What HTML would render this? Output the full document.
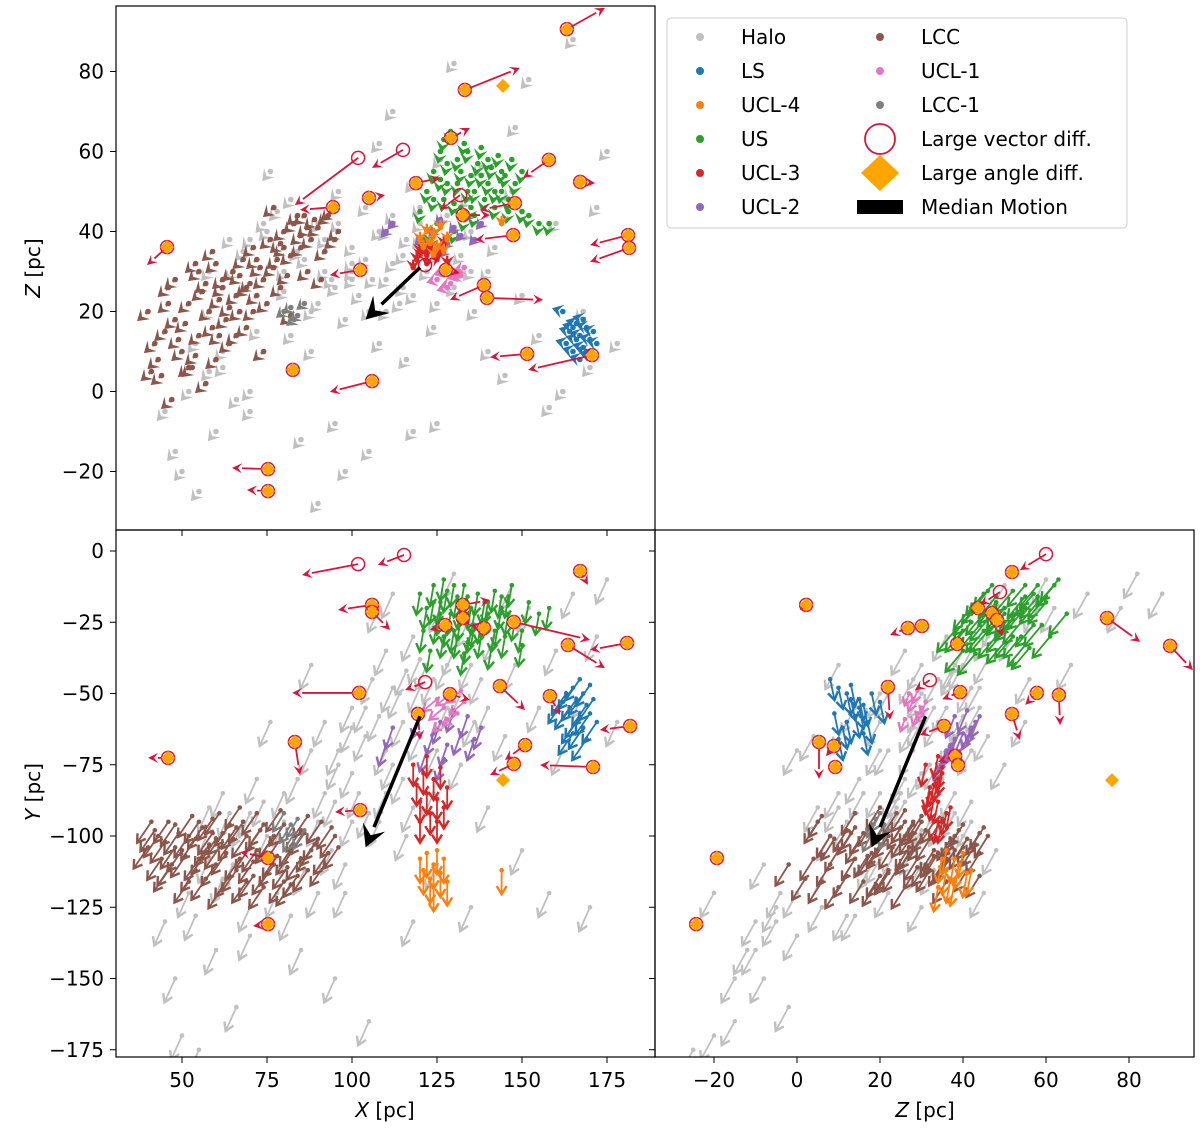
<!DOCTYPE html>
<html><head><meta charset="utf-8">
<style>
html,body{margin:0;padding:0;background:#fff;}
svg{display:block;font-family:"DejaVu Sans","Liberation Sans",sans-serif;}
</style></head>
<body>
<svg id="fig" width="1200" height="1128" viewBox="0 0 1200 1128">
<defs>
<clipPath id="cTop"><rect x="116" y="6" width="539" height="524"/></clipPath>
<clipPath id="cBL"><rect x="116" y="530" width="539" height="527"/></clipPath>
<clipPath id="cBR"><rect x="655" y="530" width="539" height="527"/></clipPath>
</defs>
<g id="gTop" clip-path="url(#cTop)"></g>
<g id="gBL" clip-path="url(#cBL)"></g>
<g id="gBR" clip-path="url(#cBR)"></g>
<g id="axes"></g>
<g id="legend"></g>
</svg>
<script>
// ---- data: stars [X, Y, Z] per group ----
const halo=[[45,-130,-5],[48,-150,-15],[50,-170,-20],[55,-175,-25],[52,-120,0],[58,-90,5],[60,-140,-10],[62,-85,10],[65,-110,30],[68,-95,35],[70,-125,-5],[72,-80,15],[75,-100,40],[78,-120,45],[80,-85,25],[82,-105,48],[85,-140,-12],[88,-70,20],[90,-95,42],[92,-60,30],[95,-150,-8],[96,-75,50],[98,-110,18],[100,-55,36],[102,-85,24],[104,-65,46],[106,-45,28],[108,-95,12],[110,-35,40],[112,-75,32],[114,-50,22],[116,-100,8],[118,-30,52],[120,-65,38],[122,-40,30],[124,-85,16],[126,-20,58],[128,-55,44],[130,-35,26],[132,-75,34],[134,-25,48],[136,-60,20],[138,-45,56],[140,-90,10],[142,-30,36],[145,-65,4],[148,-40,66],[150,-105,24],[152,-20,78],[155,-55,14],[158,-120,-4],[160,-35,42],[162,-70,0],[165,-15,88],[168,-50,20],[170,-125,6],[172,-30,46],[175,-10,60],[178,-60,12],[118,-130,-10],[105,-165,-15],[98,-120,-20],[125,-110,-8],[135,-125,30],[88,-40,10],[76,-60,55],[108,-20,62],[112,-15,70],[130,-8,82],[147,-12,50],[90,-180,-28],[66,-160,-2],[110,-70,28],[115,-60,34],[95,-88,26],[100,-78,30],[120,-48,42],[105,-92,20],[58,-98,30],[64,-92,38],
[70,-92,38],[74,-88,42],[80,-95,30],[84,-80,35],[92,-85,38],[96,-70,42],[100,-62,28],[104,-55,33],[108,-58,40],[112,-48,44],[116,-42,38],[120,-38,46],[124,-45,34],[128,-40,38],[132,-50,30],[100,-95,32],[94,-105,28],[86,-112,33],[90,-120,22],[110,-85,20],[115,-80,26],[118,-90,24],[125,-70,22],[135,-40,40],[140,-55,30],[58,-108,20],[62,-115,6],[54,-128,12],[70,-135,0],[82,-128,14]];
const lcc=[[42,-98,12],[45,-102,15],[48,-96,18],[50,-105,10],[52,-100,22],[55,-108,14],[56,-97,25],[58,-103,20],[60,-110,8],[62,-99,28],[63,-106,18],[65,-101,30],[66,-112,24],[68,-95,33],[70,-104,27],[71,-109,36],[73,-98,31],[75,-113,22],[76,-102,38],[78,-107,33],[80,-96,40],[81,-111,29],[83,-103,42],[85,-108,36],[86,-99,44],[88,-105,38],[90,-101,41],[92,-110,35],[94,-97,45],[96,-104,40],[44,-108,4],[47,-110,-2],[53,-93,6],[57,-115,2],[61,-92,14],[64,-114,12],[67,-90,20],[69,-116,16],[72,-92,24],[74,-118,10],[79,-91,26],[82,-117,19],[87,-93,30],[40,-104,20],[46,-95,26],[54,-112,32],[59,-94,35],[77,-100,46],[84,-114,44],[91,-95,28],
[43,-100,8],[49,-99,13],[51,-107,17],[54,-101,9],[57,-106,27],[59,-99,16],[61,-104,23],[64,-96,21],[67,-108,29],[69,-100,26],[72,-105,33],[74,-96,28],[77,-110,31],[79,-101,37],[82,-106,34],[85,-98,39],[87,-112,41],[89,-103,43],[93,-106,44],[46,-112,22],[52,-116,6],[62,-118,26],[66,-97,14],[71,-114,20],[55,-95,30],[48,-104,28],[60,-101,32],[95,-100,38],[80,-116,36],[41,-95,5]];
const us=[[120,-15,45],[122,-20,50],[124,-12,55],[125,-25,42],[126,-18,60],[127,-30,48],[128,-14,52],[129,-22,65],[130,-28,40],[131,-16,58],[132,-24,46],[133,-12,62],[134,-32,50],[135,-20,54],[136,-26,44],[137,-15,57],[138,-30,61],[139,-18,48],[140,-22,52],[141,-34,56],[142,-14,46],[143,-26,59],[144,-20,50],[145,-30,54],[146,-16,48],[148,-24,52],[150,-28,45],[152,-18,44],[155,-22,42],[121,-28,38],[123,-35,40],[127,-10,63],[133,-36,43],[147,-12,58],[150,-33,55],[158,-20,42],
[124,-18,48],[126,-22,53],[128,-26,57],[130,-12,47],[132,-20,55],[134,-16,60],[136,-22,50],[138,-25,54],[140,-18,58],[142,-28,50],[144,-16,55],[146,-22,45],[131,-30,52],[135,-28,46]];
const ls=[[163,-50,12],[164,-55,15],[165,-48,10],[166,-60,17],[166,-52,13],[167,-45,8],[167,-58,14],[168,-50,18],[168,-62,11],[169,-54,16],[170,-47,13],[170,-57,9],[171,-52,15],[172,-60,12],[165,-64,16],[169,-66,10],[162,-53,20]];
const ucl3=[[118,-75,31],[119,-82,33],[120,-88,34],[121,-78,35],[122,-85,32],[123,-92,36],[124,-80,34],[125,-87,33],[126,-76,35],[127,-90,37],[122,-72,34],[128,-83,32],[120,-95,35],[125,-95,34]];
const ucl2=[[110,-68,40],[112,-62,42],[120,-58,38],[122,-70,36],[124,-64,40],[126,-60,43],[128,-68,37],[130,-56,41],[132,-64,39],[134,-58,44],[136,-66,38],[138,-62,42],[127,-73,35]];
const ucl1=[[125,-52,28],[127,-55,30],[129,-50,27],[131,-57,29],[133,-53,31],[128,-59,26],[132,-49,29]];
const ucl4=[[120,-108,38],[121,-112,36],[122,-106,40],[123,-115,37],[124,-110,39],[125,-105,36],[126,-113,41],[127,-108,35],[128,-116,38],[144,-112,42],[124,-118,34]];
const lcc1=[[80,-92,20],[82,-96,21],[84,-94,19],[86,-98,22],[83,-99,18]];
// group velocity vectors [dX, dY, dZ]
const velHalo=[-3,-8,-3], velLcc=[-4,-7,-3], velUs=[-1,-7,-4], velLs=[-4,-7,1], velUcl3=[0,-7,-1], velUcl2=[-2,-7,-2], velUcl1=[-4,-4,-1], velUcl4=[0,-8,-1], velLcc1=[-3,-6,-2];
// median motion: start [X,Y,Z], vector
const medianStart=[120,-58,31], medianVec=[-16,-46,-13];
// outliers per panel: [u0, v0, u1, v1, type] type D=diamond+circle, O=circle, P=diamond only
const outTop=[[163.2,90.6,174.4,95.9,'D'],[133.2,75.4,149.4,80.9,'D'],[101.8,58.4,83.2,46.6,'O'],[115,60.4,105.9,55.9,'O'],[129.1,63.4,134.7,65.9,'D'],[157.9,57.9,150.3,53.4,'D'],[167.1,52.4,171.5,52.1,'D'],[118.8,52.1,125.9,53.4,'D'],[131.8,49.1,125.9,45.4,'O'],[94.4,46.1,84.7,45.4,'D'],[105,48.4,109.7,49.1,'D'],[132.6,44.1,140.6,44.1,'D'],[147.9,47.1,137.6,45.4,'D'],[147.4,39.1,136.2,37.9,'D'],[181.2,39.1,170,36.6,'D'],[181.5,35.9,170,32.4,'D'],[45.6,36.1,39.7,31.6,'D'],[102.4,30.4,93.5,29.1,'D'],[121.5,31.6,125.9,33.4,'O'],[138.8,26.6,128.8,22.9,'D'],[127.6,30.4,131.8,29.6,'D'],[139.7,23.4,156.2,22.9,'D'],[170.6,9.1,151.8,5.4,'D'],[151.5,9.4,140.6,8.6,'D'],[82.6,5.4,81.2,5.9,'D'],[105.9,2.6,93.5,-0.1,'D'],[75.3,-19.4,64.7,-19.1,'D'],[75.3,-24.9,69.1,-24.6,'D'],[144.4,76.4,144.4,76.4,'P']];
const outBL=[[101.8,-4.6,85.3,-8.4,'O'],[115.3,-1.4,107.6,-4.9,'O'],[105.9,-18.9,95.9,-20.7,'D'],[105.9,-21.4,111.2,-27.7,'D'],[167.1,-7,169.4,-11.9,'D'],[180.9,-32.3,170,-34.7,'D'],[163.5,-33,174.4,-41.1,'D'],[132.6,-18.9,140.6,-17.2,'D'],[127.4,-26,122.9,-27.7,'D'],[138.8,-27,134.7,-26,'D'],[147.6,-24.9,170,-31.2,'D'],[132.6,-23.5,134.7,-26,'D'],[121.5,-46,115.6,-48.8,'O'],[128.8,-50.2,134.7,-52.3,'D'],[143.5,-47.4,150.9,-55.8,'D'],[158.2,-50.9,161.2,-57.5,'D'],[102.1,-49.8,82.4,-49.8,'D'],[83.2,-67,84.7,-78.6,'D'],[119.4,-57.2,120,-66.3,'D'],[181.8,-61.4,172.9,-62.8,'D'],[150.9,-68.1,145,-73.3,'D'],[147.6,-74.7,140.6,-78.6,'D'],[170.9,-75.8,155.3,-75.1,'D'],[144.4,-80.4,144.4,-80.4,'P'],[45.9,-72.6,40,-72.6,'D'],[102.4,-90.9,95,-91.6,'D'],[75.3,-107.7,67.1,-105.6,'D'],[75.3,-130.9,70.9,-131.6,'D']];
const outBR=[[60,-1.1,53.7,-6.7,'O'],[48.9,-14.4,44.1,-18.9,'O'],[51.8,-7.4,51.8,-7.4,'D'],[2.2,-18.9,0.7,-20.7,'D'],[26.7,-27,22.4,-29.5,'D'],[30.1,-26.3,30.1,-26.3,'D'],[43.6,-20,43.6,-20,'D'],[47,-21.8,47,-21.8,'D'],[48.2,-24.2,49.5,-30,'D'],[74.7,-23.5,82.7,-31.9,'D'],[89.9,-33.3,95.4,-41.8,'D'],[38.6,-32.6,38.6,-32.6,'D'],[32,-45.3,28.4,-48.8,'O'],[21.9,-47.7,22.4,-59.3,'D'],[39.3,-49.5,35,-52,'D'],[51.8,-57.2,53.7,-66.3,'D'],[57.8,-49.8,55,-54,'D'],[63.1,-50.5,63.4,-61.1,'D'],[35.4,-61.4,29.6,-64.6,'D'],[5.3,-67,5.3,-80,'D'],[8.9,-68.4,7,-72,'D'],[9.2,-75.8,9.2,-75.8,'D'],[38.1,-71.9,34,-74,'D'],[38.8,-75.1,38.8,-75.1,'D'],[75.9,-80.4,75.9,-80.4,'P'],[-19.3,-107.7,-19.3,-107.7,'D'],[-24.3,-130.9,-24.3,-130.9,'D']];
const xTicks=[50,75,100,125,150,175];
const zTicksTop=[80,60,40,20,0,-20];
const yTicks=[0,-25,-50,-75,-100,-125,-150,-175];
const zTicksBR=[-20,0,20,40,60,80];

// ---- axis functions ----
const sx=v=>182+(v-50)*3.4;
const szTop=v=>391.5-v*4.0;
const syy=v=>551+(-v)*2.85;
const szB=v=>797+v*4.15;

const NS='http://www.w3.org/2000/svg';
function mk(tag,attrs,parent){const e=document.createElementNS(NS,tag);for(const k in attrs)e.setAttribute(k,attrs[k]);parent.appendChild(e);return e;}

const gTop=document.getElementById('gTop'),gBL=document.getElementById('gBL'),gBR=document.getElementById('gBR'),axes=document.getElementById('axes'),leg=document.getElementById('legend');

function drawArrow(g,x1,y1,x2,y2,col,lw,hl,hw,filled,name){
  const dx=x2-x1,dy=y2-y1,L=Math.hypot(dx,dy);
  if(L<0.5)return;
  const ux=dx/L,uy=dy/L,px=-uy,py=ux;
  const bx=x2-ux*hl,by=y2-uy*hl;
  const ln=mk('line',{x1:x1,y1:y1,x2:filled?bx:x2,y2:filled?by:y2,stroke:col,'stroke-width':lw},g);
  
  
  const pts=`${bx+px*hw},${by+py*hw} ${x2},${y2} ${bx-px*hw},${by-py*hw}`;
  let h;
  if(filled){h=mk('polygon',{points:pts+` ${x2-ux*hl*0.6},${y2-uy*hl*0.6}`,fill:col},g);}
  else{h=mk('polyline',{points:pts,fill:'none',stroke:col,'stroke-width':lw+0.6},g);}
  
  
}

const panels=[
  {g:gTop,fu:s=>sx(s[0]),fv:s=>szTop(s[2]),du:v=>v[0]*3.4,dv:v=>-v[2]*4.0,scale:0.8,dot:false,lw:2.4,hl:11,hw:7},
  {g:gBL,fu:s=>sx(s[0]),fv:s=>syy(s[1]),du:v=>v[0]*3.4,dv:v=>-v[1]*2.85,scale:1.05,dot:true,lw:1.8,hl:8,hw:5},
  {g:gBR,fu:s=>szB(s[2]),fv:s=>syy(s[1]),du:v=>v[2]*4.15,dv:v=>-v[1]*2.85,scale:1.05,dot:true,lw:1.8,hl:8,hw:5}
];
const groups=[
  {d:halo,v:velHalo,c:'#c0c0c0',n:'halo'},
  {d:lcc,v:velLcc,c:'#8c564b',n:'lcc'},
  {d:lcc1,v:velLcc1,c:'#7f7f7f',n:'lcc-1'},
  {d:us,v:velUs,c:'#2ca02c',n:'us'},
  {d:ls,v:velLs,c:'#1f77b4',n:'ls'},
  {d:ucl2,v:velUcl2,c:'#9467bd',n:'ucl-2'},
  {d:ucl1,v:velUcl1,c:'#e377c2',n:'ucl-1'},
  {d:ucl3,v:velUcl3,c:'#d62728',n:'ucl-3'},
  {d:ucl4,v:velUcl4,c:'#ff7f0e',n:'ucl-4'}
];
panels.forEach(P=>{
  groups.forEach(G=>{
    G.d.forEach(s=>{
      const x=P.fu(s),y=P.fv(s);
      const x2=x+P.du(G.v)*P.scale,y2=y+P.dv(G.v)*P.scale;
      const c=mk('circle',{cx:x,cy:y,r:P.dot?2.3:2.8,fill:G.c},P.g);
      
      
      drawArrow(P.g,x,y,x2,y2,G.c,P.lw,P.hl,P.hw,!P.dot,G.n+'-arrow');
    });
  });
});
// outliers
function drawOut(g,list,fu,fv){
  list.forEach(o=>{
    const x=fu(o[0]),y=fv(o[1]),x2=fu(o[2]),y2=fv(o[3]);
    if(o[4]!=='P') drawArrow(g,x,y,x2,y2,'#dc143c',1.8,10,5,true,'outlier-arrow');
    if(o[4]!=='P'){const c=mk('circle',{cx:x,cy:y,r:6.5,fill:'none',stroke:'#dc143c','stroke-width':1.5},g);
      
      }
    if(o[4]!=='O'){const r=7;const d=mk('polygon',{points:`${x},${y-r} ${x+r},${y} ${x},${y+r} ${x-r},${y}`,fill:'#ffa500'},g);
      
      }
  });
}
drawOut(gTop,outTop,sx,szTop);
drawOut(gBL,outBL,sx,syy);
drawOut(gBR,outBR,szB,syy);
// median motion
[[gTop,s=>sx(s[0]),s=>szTop(s[2])],[gBL,s=>sx(s[0]),s=>syy(s[1])],[gBR,s=>szB(s[2]),s=>syy(s[1])]].forEach(a=>{
  const e=[medianStart[0]+medianVec[0],medianStart[1]+medianVec[1],medianStart[2]+medianVec[2]];
  drawArrow(a[0],a[1](medianStart),a[2](medianStart),a[1](e),a[2](e),'#000',3.5,22,12,true,'median-motion');
});

// ---- axes ----
function frame(x,y,w,h,name){const r=mk('rect',{x:x,y:y,width:w,height:h,fill:'none',stroke:'#000','stroke-width':1.2},axes);
  
  }
frame(116,6,539,524,'xz-panel-frame');frame(116,530,539,527,'xy-panel-frame');frame(655,530,539,527,'zy-panel-frame');
function txt(x,y,s,anchor,name){const t=mk('text',{x:x,y:y,'font-size':20,'text-anchor':anchor,fill:'#000'},axes);t.textContent=s;
  
  return t;}
const fmt=v=>v<0?'\u2212'+(-v):''+v;
xTicks.forEach(v=>{const x=sx(v);mk('line',{x1:x,y1:1057,x2:x,y2:1063,stroke:'#000','stroke-width':1},axes);mk('line',{x1:x,y1:530,x2:x,y2:536,stroke:'#000','stroke-width':1},axes);txt(x,1087,fmt(v),'middle','x-tick-label');});
zTicksTop.forEach(v=>{const y=szTop(v);mk('line',{x1:110,y1:y,x2:116,y2:y,stroke:'#000','stroke-width':1},axes);txt(104,y+7,fmt(v),'end','z-tick-label');});
yTicks.forEach(v=>{const y=syy(v);mk('line',{x1:110,y1:y,x2:116,y2:y,stroke:'#000','stroke-width':1},axes);mk('line',{x1:649,y1:y,x2:655,y2:y,stroke:'#000','stroke-width':1},axes);txt(104,y+7,fmt(v),'end','y-tick-label');});
zTicksBR.forEach(v=>{const x=szB(v);mk('line',{x1:x,y1:1057,x2:x,y2:1063,stroke:'#000','stroke-width':1},axes);txt(x,1087,fmt(v),'middle','z-tick-label-bottom');});
function label(x,y,letter,rot,name){const t=mk('text',{x:x,y:y,'font-size':20,'text-anchor':'middle',transform:rot?`rotate(-90 ${x} ${y})`:''},axes);
  
  
  const a=mk('tspan',{'font-style':'italic'},t);a.textContent=letter;const b=mk('tspan',{},t);b.textContent=' [pc]';}
label(385,1117,'X',false,'x-axis-title');label(925,1117,'Z',false,'z-axis-title-bottom');
label(40,268,'Z',true,'z-axis-title');label(40,792,'Y',true,'y-axis-title');

// ---- legend ----
const lb=mk('rect',{x:667,y:18,width:460,height:210,rx:4,fill:'#fff',stroke:'#ccc','stroke-width':1},leg);


const leg1=[['Halo','#c0c0c0'],['LS','#1f77b4'],['UCL-4','#ff7f0e'],['US','#2ca02c'],['UCL-3','#d62728'],['UCL-2','#9467bd']];
const leg2=[['LCC','#8c564b'],['UCL-1','#e377c2'],['LCC-1','#7f7f7f']];
function ltxt(x,y,s){const t=mk('text',{x:x,y:y+7,'font-size':20,fill:'#000'},leg);t.textContent=s;
  
  }
leg1.forEach((e,i)=>{const y=37+i*34;const c=mk('circle',{cx:700,cy:y,r:4,fill:e[1]},leg);
  
  ltxt(741,y,e[0]);});
leg2.forEach((e,i)=>{const y=37+i*34;const c=mk('circle',{cx:880,cy:y,r:4,fill:e[1]},leg);
  
  ltxt(921,y,e[0]);});
const lc=mk('circle',{cx:880,cy:139,r:15,fill:'none',stroke:'#dc143c','stroke-width':1.8},leg);


ltxt(921,139,'Large vector diff.');
const ld=mk('polygon',{points:'880,155 899,173 880,191 861,173',fill:'#ffa500'},leg);


ltxt(921,173,'Large angle diff.');
const lm=mk('rect',{x:857,y:200,width:46,height:14,fill:'#000'},leg);


ltxt(921,207,'Median Motion');
</script>
</body></html>
